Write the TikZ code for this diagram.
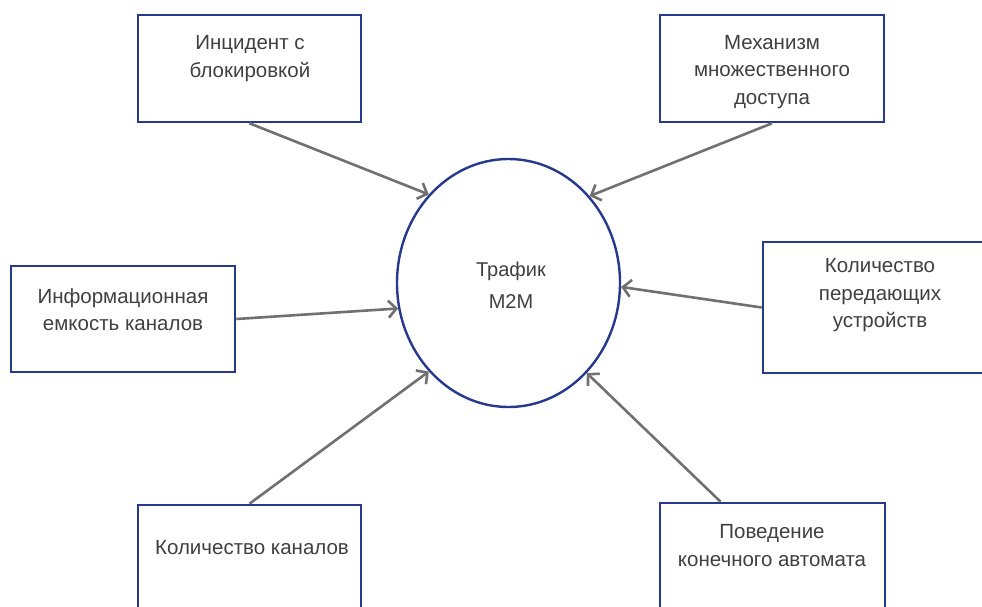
\documentclass[tikz,border=0pt]{standalone}
\usepackage{fontspec}
\setmainfont{Liberation Sans}
\usetikzlibrary{shapes.geometric,arrows.meta}
\definecolor{boxblue}{HTML}{26398C}
\definecolor{txtgray}{HTML}{404040}
\definecolor{arrgray}{HTML}{707070}
\tikzset{
  box/.style={draw=boxblue, line width=2.6pt, fill=white, inner sep=0pt},
  lbl/.style={text=txtgray, align=center, inner sep=0pt, font=\fontsize{20.5}{27.5}\selectfont},
  hub/.style={ellipse, draw=boxblue, line width=2.4pt, fill=white, minimum width=223pt, minimum height=248pt},
  arr/.style={draw=arrgray, line width=2.6pt, -{Straight Barb[length=8pt,width=17pt,line width=2.6pt]}}
}
\begin{document}
\begin{tikzpicture}[x=1pt,y=-1pt]
\useasboundingbox (0,0) rectangle (982,606);
\clip (0,0) rectangle (982,606);
% central node
\node[hub] (c) at (508.5,283) {};
\node[lbl, font=\fontsize{20}{32.5}\selectfont] (ct) at (511,285) {Трафик\\M2M};
% factor boxes
\node[box, minimum width=223pt, minimum height=107pt] (b1) at (249.5,68.5) {};
\node[box, minimum width=224pt, minimum height=107pt] (b2) at (772,68.5) {};
\node[box, minimum width=224pt, minimum height=106pt] (b3) at (123,319) {};
\node[box, minimum width=234pt, minimum height=131pt] (b4) at (880,307.5) {};
\node[box, minimum width=223pt, minimum height=107pt] (b5) at (249.5,558.5) {};
\node[box, minimum width=225pt, minimum height=107pt] (b6) at (772.5,556.5) {};
% box labels
\node[lbl] (t1) at (250,58.5) {Инцидент с\\блокировкой};
\node[lbl] (t2) at (772,72) {Механизм\\множественного\\доступа};
\node[lbl] (t3) at (123,309.5) {Информационная\\емкость каналов};
\node[lbl] (t4) at (880,295.5) {Количество\\передающих\\устройств};
\node[lbl] (t5) at (252,548) {Количество каналов};
\node[lbl] (t6) at (772,545.5) {Поведение\\конечного автомата};
% connectors
\draw[arr] (b1.south) -- (c.132);
\draw[arr] (b2.south) -- (c.47);
\draw[arr] (b3.east) -- (c.193.7);
\draw[arr] (b4.west) -- (c.-2);
\draw[arr] (b5.north) -- (c.228.7);
\draw[arr] ([xshift=-52pt]b6.north) -- (c.311.8);
\end{tikzpicture}
\end{document}
